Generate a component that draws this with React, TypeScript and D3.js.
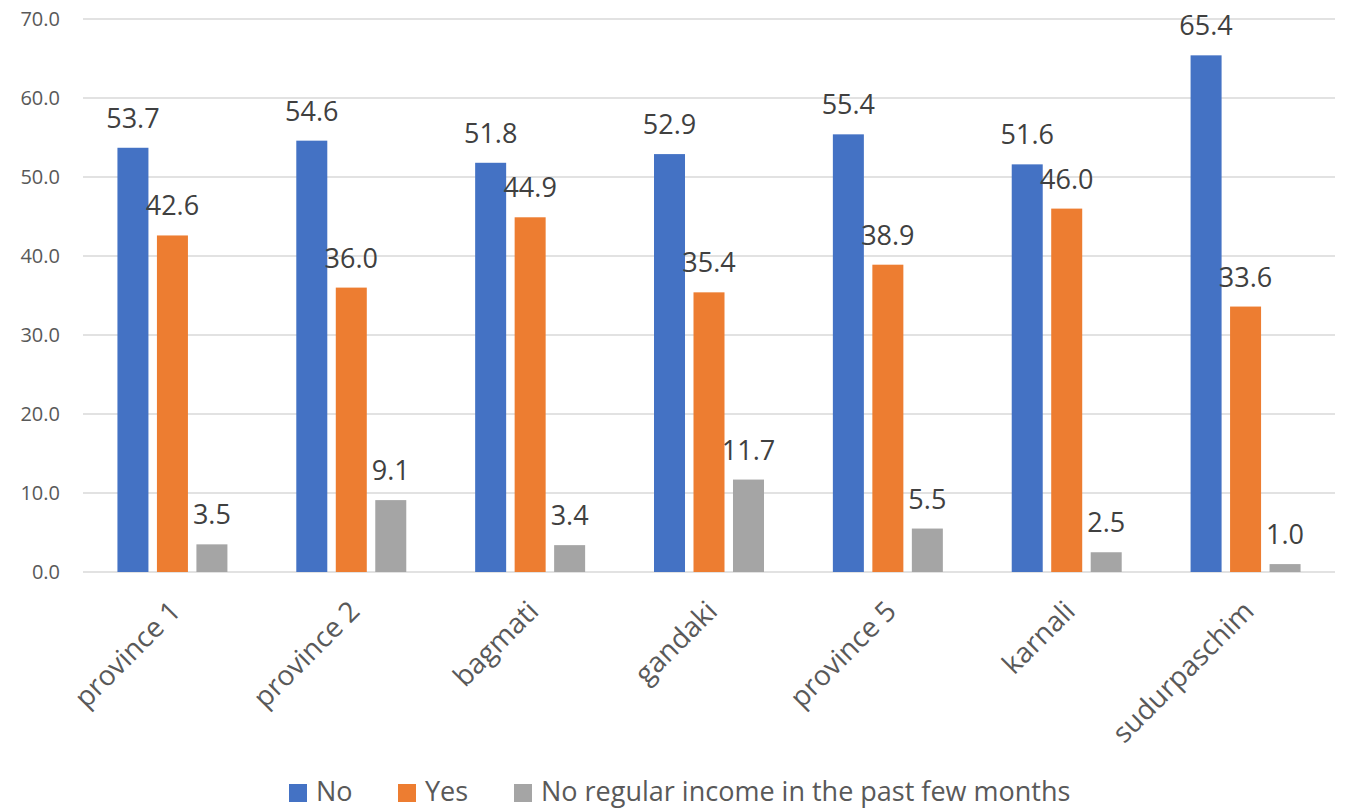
import React from "react";
import * as d3 from "d3";

const categories = ["province 1", "province 2", "bagmati", "gandaki", "province 5", "karnali", "sudurpaschim"];
const seriesNames = ["No", "Yes", "No regular income in the past few months"];
const noValues = [53.7, 54.6, 51.8, 52.9, 55.4, 51.6, 65.4];
const yesValues = [42.6, 36.0, 44.9, 35.4, 38.9, 46.0, 33.6];
const noIncomeValues = [3.5, 9.1, 3.4, 11.7, 5.5, 2.5, 1.0];
const yTicks = [0, 10, 20, 30, 40, 50, 60, 70];
const colors = ["#4472C4", "#ED7D31", "#A5A5A5"];

const W = 1350;
const H = 809;
const FONT = "'Open Sans', 'DejaVu Sans', sans-serif";

export default function App() {
  const left = 83, right = 1335, top = 19, bottom = 572;
  const x0 = d3.scaleBand<string>().domain(categories).range([left, right]).paddingInner(0).paddingOuter(0);
  const x1 = d3.scaleBand<string>().domain(seriesNames).range([0, x0.bandwidth()]).paddingInner(0.215).paddingOuter(0.872);
  const y = d3.scaleLinear().domain([0, 70]).range([bottom, top]);
  const allSeries = [noValues, yesValues, noIncomeValues];

  const legendItems = [
    { name: seriesNames[0], x: 289, color: colors[0] },
    { name: seriesNames[1], x: 398, color: colors[1] },
    { name: seriesNames[2], x: 514, color: colors[2] },
  ];

  return (
    <svg width={W} height={H} style={{ position: "absolute", left: 0, top: 0, background: "#fff" }} fontFamily={FONT}>
      {yTicks.map((t) => (
        <g key={t}>
          <line x1={left} x2={right} y1={y(t)} y2={y(t)} stroke="#d9d9d9" strokeWidth={1.5} />
          <text x={60} y={y(t)} dy="0.35em" textAnchor="end" fontSize={20} fill="#595959">
            {d3.format(".1f")(t)}
          </text>
        </g>
      ))}
      {allSeries.map((vals, si) =>
        vals.map((v, ci) => (
          <rect
            key={`${si}-${ci}`}
            x={(x0(categories[ci]) as number) + (x1(seriesNames[si]) as number)}
            y={y(v)}
            width={x1.bandwidth()}
            height={bottom - y(v)}
            fill={colors[si]}
          />
        ))
      )}
      {allSeries.map((vals, si) =>
        vals.map((v, ci) => (
          <text
            key={`l-${si}-${ci}`}
            x={(x0(categories[ci]) as number) + (x1(seriesNames[si]) as number) + x1.bandwidth() / 2}
            y={y(v) - 20}
            textAnchor="middle"
            fontSize={27}
            fill="#404040"
          >
            {d3.format(".1f")(v)}
          </text>
        ))
      )}
      {categories.map((c) => {
        const cx = (x0(c) as number) + x0.bandwidth() / 2 + 10;
        const cy = 613;
        return (
          <text
            key={c}
            x={cx}
            y={cy}
            textAnchor="end"
            fontSize={28}
            fill="#595959"
            transform={`rotate(-45, ${cx}, ${cy})`}
          >
            {c}
          </text>
        );
      })}
      {legendItems.map((it) => (
        <g key={it.name}>
          <rect x={it.x} y={784} width={18} height={18} fill={it.color} />
          <text x={it.x + 27} y={801} fontSize={27} fill="#595959">
            {it.name}
          </text>
        </g>
      ))}
    </svg>
  );
}
